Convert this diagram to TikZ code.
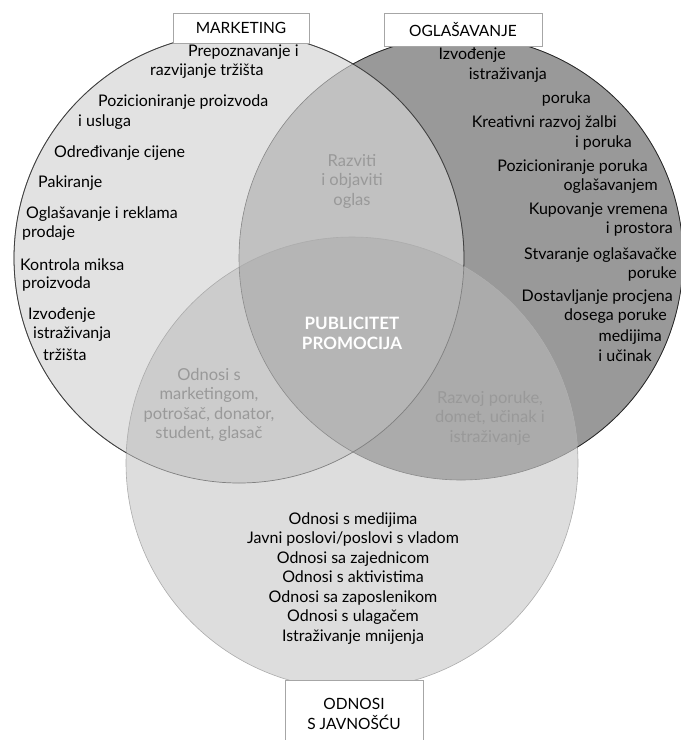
\documentclass[tikz,border=0pt]{standalone}
\usepackage{fontspec}
\setmainfont{Lato}
\usepackage{tikz}

\definecolor{mktfill}{gray}{0.885}
\definecolor{oglfill}{gray}{0.60}
\definecolor{ovjfill}{gray}{0.865}
\definecolor{mkoglfill}{gray}{0.755}
\definecolor{mkovjfill}{gray}{0.80}
\definecolor{oglovjfill}{gray}{0.67}
\definecolor{allfill}{gray}{0.71}
\definecolor{softtext}{gray}{0.60}

\tikzset{
  item/.style={inner sep=0pt, font=\fontsize{16}{19.5}\selectfont},
  soft/.style={inner sep=0pt, align=center, text=softtext, font=\fontsize{16.5}{19.5}\selectfont},
  labelbox/.style={draw=gray!70, fill=white, line width=0.8pt, align=center, font=\fontsize{15.5}{19.5}\selectfont},
  outside/.style 2 args={insert path={(-50,-50) rectangle (750,800) (#1) circle[radius=#2]}}
}

\begin{document}
\begin{tikzpicture}[x=1pt,y=-1pt]
\useasboundingbox (0,0) rectangle (681,740);
\def\rmkt{225}
\def\rogl{222}
\def\rovj{226}
\coordinate (mkt) at (239,258);
\coordinate (ogl) at (461,258);
\coordinate (ovj) at (352,463);

% krugovi
\fill[mktfill] (mkt) circle[radius=\rmkt];
\fill[oglfill] (ogl) circle[radius=\rogl];
\fill[ovjfill] (ovj) circle[radius=\rovj];
\begin{scope}
  \clip (mkt) circle[radius=\rmkt];
  \fill[mkoglfill] (ogl) circle[radius=\rogl];
  \fill[mkovjfill] (ovj) circle[radius=\rovj];
  \clip (ogl) circle[radius=\rogl];
  \fill[allfill] (ovj) circle[radius=\rovj];
\end{scope}
\begin{scope}[even odd rule]
  \clip (ogl) circle[radius=\rogl];
  \clip[outside={mkt}{\rmkt}];
  \fill[oglovjfill] (ovj) circle[radius=\rovj];
\end{scope}

% obrisi
\draw[gray!65, line width=0.6pt] (ovj) circle[radius=\rovj];
\draw[black!45, line width=0.6pt] (ogl) circle[radius=\rogl];
\draw[black!50, line width=0.7pt] (mkt) circle[radius=\rmkt];
\begin{scope}[even odd rule]
  \clip[outside={ovj}{\rovj}];
  \draw[black!75, line width=0.8pt] (mkt) circle[radius=\rmkt];
  \clip[outside={mkt}{\rmkt}];
  \draw[black!85, line width=0.8pt] (ogl) circle[radius=\rogl];
\end{scope}

% naslovi
\node[labelbox, minimum width=136, minimum height=30] (mktbox) at (241,28) {MARKETING};
\node[labelbox, minimum width=158, minimum height=33] (oglbox) at (463,29.5) {OGLAŠAVANJE};
\draw[gray!70, line width=0.8pt, fill=white] (285,680) rectangle (423,760);
\node[inner sep=0pt, align=center, font=\fontsize{15.5}{20}\selectfont] (ovjbox) at (354,714) {ODNOSI\\S JAVNOŠĆU};

% marketing
\foreach \x/\y/\t [count=\i] in {
  188/52/Prepoznavanje i, 150/71/razvijanje tržišta,
  98/102/Pozicioniranje proizvoda, 78/122/i usluga,
  54/153/Određivanje cijene, 38/183/Pakiranje,
  26/214/Oglašavanje i reklama, 22/233/prodaje,
  20/265/Kontrola miksa, 22/284/proizvoda,
  28/315/Izvođenje, 33/334/istraživanja, 43/355/tržišta}
  \node[item, anchor=west] (mk\i) at (\x,\y) {\t};

% oglasavanje
\foreach \x/\y/\t [count=\i] in {
  506/55/Izvođenje, 547/75/istraživanja, 591/99/poruka,
  617/123/Kreativni razvoj žalbi, 632/143/i poruka,
  648/167/Pozicioniranje poruka, 658/186/oglašavanjem,
  668/210/Kupovanje vremena, 673/229/i prostora,
  677/255/Stvaranje oglašavačke, 677/274/poruke,
  673/297/Dostavljanje procjena, 667/316/dosega poruke,
  662/337/medijima, 652/356/i učinak}
  \node[item, anchor=east] (og\i) at (\x,\y) {\t};

% presjeci
\node[soft] (mkog) at (352,181) {Razviti\\i objaviti\\oglas};
\node[soft] (mkov) at (209,405) {Odnosi s\\marketingom,\\potrošač, donator,\\student, glasač};
\node[soft] (ogov) at (490,418) {Razvoj poruke,\\domet, učinak i\\istraživanje};
\node[inner sep=0pt, align=center, text=white, font=\fontsize{17}{20}\selectfont\bfseries] (pub) at (352,333) {PUBLICITET\\PROMOCIJA};

% odnosi s javnoscu
\node[item, align=center] (ovjlist) at (353,578.5) {Odnosi s medijima\\Javni poslovi/poslovi s vladom\\Odnosi sa zajednicom\\Odnosi s aktivistima\\Odnosi sa zaposlenikom\\Odnosi s ulagačem\\Istraživanje mnijenja};
\end{tikzpicture}
\end{document}
